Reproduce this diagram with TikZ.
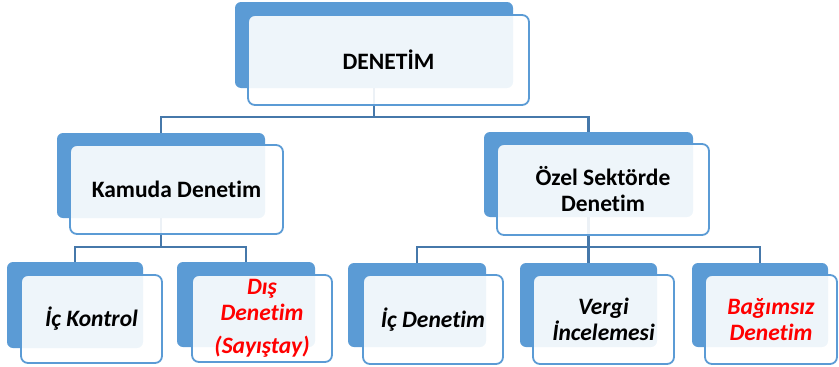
\documentclass[tikz,border=0pt]{standalone}
\usepackage{fontspec}
\setmainfont[Ligatures=NoCommon]{Carlito}
\definecolor{boxblue}{RGB}{91,155,213}
\definecolor{lineblue}{RGB}{70,120,170}
\definecolor{txtred}{RGB}{255,0,0}
\tikzset{
  backbox/.style={fill=boxblue, draw=none, rounded corners=6pt, inner sep=0pt},
  frontbox/.style={fill=white, fill opacity=0.9, text opacity=1, draw=boxblue, draw opacity=1, line width=1.8pt, rounded corners=7pt, inner sep=0pt, align=center, font=\fontsize{23.5}{26}\selectfont\bfseries},
  leaf/.style={font=\fontsize{23.5}{26}\selectfont\bfseries\itshape},
  conn/.style={draw=lineblue, line width=2.4pt},
}
\begin{document}
\begin{tikzpicture}[x=1pt,y=-1pt]
\useasboundingbox (0,0) rectangle (839,367);
\coordinate (h1) at (0,117);
\coordinate (h2) at (0,247);
% back boxes
\node[backbox, minimum width=278pt, minimum height=86pt] (denB) at (374,45) {};
\node[backbox, minimum width=208pt, minimum height=85pt] (kamB) at (161,175.5) {};
\node[backbox, minimum width=209pt, minimum height=85pt] (ozeB) at (588.5,174.5) {};
\node[backbox, minimum width=136pt, minimum height=86pt] (ickB) at (75,305) {};
\node[backbox, minimum width=138pt, minimum height=85pt] (disB) at (246,304.5) {};
\node[backbox, minimum width=138pt, minimum height=84pt] (icdB) at (417,305) {};
\node[backbox, minimum width=137pt, minimum height=84pt] (verB) at (588.5,305) {};
\node[backbox, minimum width=136pt, minimum height=84pt] (bagB) at (760,305) {};
% connectors
\draw[conn] (denB.south) -- (denB.south |- h1) -| (kamB.north);
\draw[conn] (denB.south |- h1) -| (ozeB.north);
\draw[conn] (kamB.south) -- (kamB.south |- h2) -| (ickB.north);
\draw[conn] (kamB.south |- h2) -| (disB.north);
\draw[conn] (ozeB.south) -- (ozeB.south |- h2) -| (icdB.north);
\draw[conn] (ozeB.south |- h2) -- (verB.north);
\draw[conn] (ozeB.south |- h2) -| (bagB.north);
% front boxes
\node[frontbox, minimum width=281pt, minimum height=90pt] (den) at (388.5,60) {DENET\.{I}M};
\node[frontbox, minimum width=213pt, minimum height=89pt] (kam) at (176.5,189.5) {Kamuda Denetim};
\node[frontbox, minimum width=212pt, minimum height=91pt] (oze) at (603,189.5) {Özel Sektörde\\Denetim};
\node[frontbox, leaf, minimum width=141pt, minimum height=88pt] (ick) at (91.5,319) {İç Kontrol};
\node[frontbox, leaf, text=txtred, minimum width=140pt, minimum height=87pt] (dis) at (262,318.5) {Dış\\Denetim\\[7pt](Sayıştay)};
\node[frontbox, leaf, minimum width=140pt, minimum height=89pt] (icd) at (433,319.5) {İç Denetim};
\node[frontbox, leaf, minimum width=141pt, minimum height=89pt] (ver) at (603.5,319.5) {Vergi\\İncelemesi};
\node[frontbox, leaf, text=txtred, minimum width=132pt, minimum height=89pt] (bag) at (771,319.5) {Bağımsız\\Denetim};
\end{tikzpicture}
\end{document}
